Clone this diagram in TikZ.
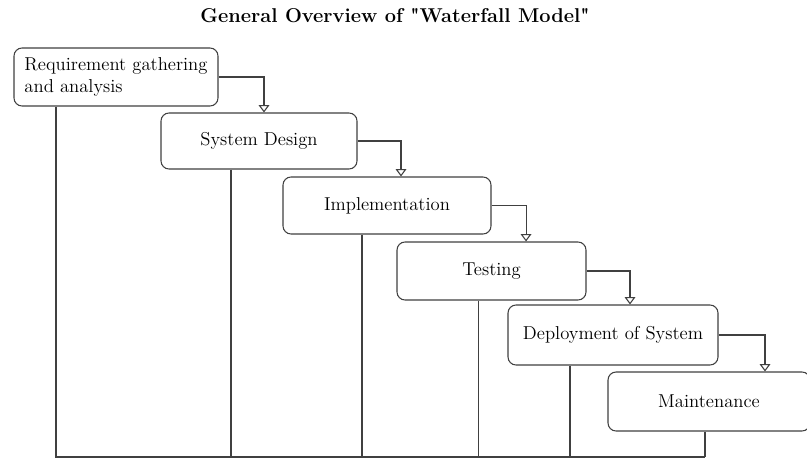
\documentclass[tikz,border=0pt]{standalone}
\usepackage{tikz}
\usetikzlibrary{arrows.meta}
\tikzstyle{phase}+=[draw=black!75,line width=0.8pt,rounded corners=6pt,fill=white,font=\fontsize{14}{16}\selectfont,inner sep=3pt]
\tikzstyle{flow}+=[draw=black!75,line width=0.8pt,-{Triangle[open,width=8pt,length=5.5pt]}]
\tikzstyle{rail}+=[draw=black!75,line width=0.8pt]

\begin{document}
\begin{tikzpicture}[x=0.75pt,y=-0.75pt]
    \useasboundingbox (0,0) rectangle (807,460);
    \node[font=\fontsize{15}{17}\selectfont\bfseries] (title) at (395,16) {General Overview of \textquotedbl Waterfall Model\textquotedbl};
    \node[phase,minimum width=153pt,minimum height=43.5pt,align=left] (req) at (116,77) {Requirement gathering\\and analysis};
    \node[phase,minimum width=147pt,minimum height=42pt] (design) at (259,141) {System Design};
    \node[phase,minimum width=156pt,minimum height=42.75pt] (impl) at (387,205.5) {Implementation};
    \node[phase,minimum width=141.75pt,minimum height=43.5pt] (test) at (491.5,271) {Testing};
    \node[phase,minimum width=157.5pt,minimum height=45pt] (deploy) at (613,335) {Deployment of System};
    \node[phase,minimum width=151.5pt,minimum height=44.25pt] (maint) at (709,401.5) {Maintenance};
    \foreach \a/\b/\s in {req/design/3.75,design/impl/10.5,impl/test/25.9,test/deploy/12.75,deploy/maint/42}
        \draw[flow] (\a.east) -| ([xshift=\s pt]\b.north);
    \coordinate (bl) at (55,457);
    \foreach \n/\s in {req/-45,design/-21,impl/-18.75,test/-10.1,deploy/-32.25,maint/-3}
        \draw[rail] ([xshift=\s pt]\n.south) -- ([xshift=\s pt]\n.south |- bl);
    \draw[rail] (bl) -- ([xshift=-3pt]maint.south |- bl);
\end{tikzpicture}
\end{document}
